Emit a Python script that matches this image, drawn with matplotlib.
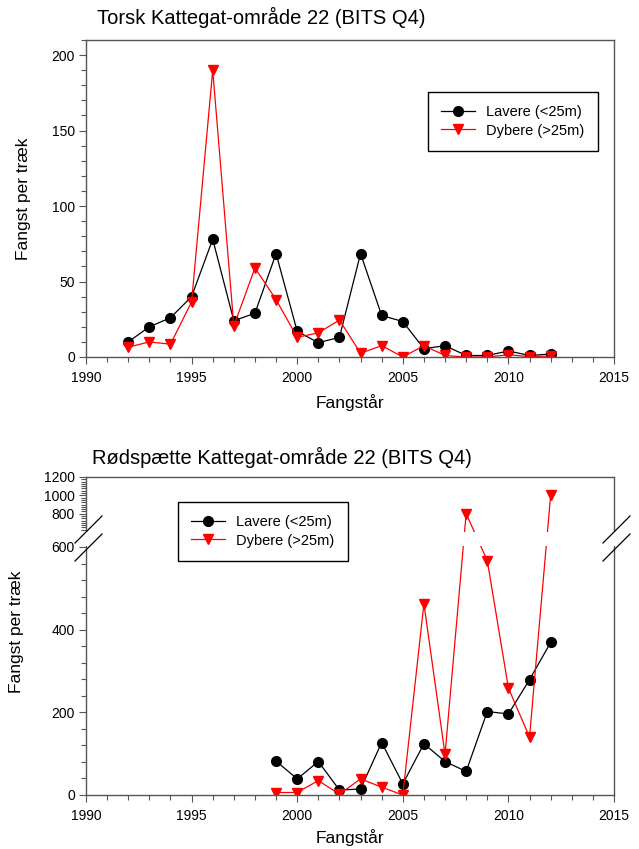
import numpy as np
import matplotlib
matplotlib.use("Agg")
import matplotlib.pyplot as plt
from matplotlib.lines import Line2D
from matplotlib.patches import Rectangle
from matplotlib.ticker import MultipleLocator, FixedLocator

plt.rcParams['font.family'] = ['Liberation Sans', 'DejaVu Sans']

# Torsk (top)
torsk_aar = list(range(1992, 2013))
torsk_lavere = [10, 20, 26, 40, 78, 24, 29, 68.5, 17, 9.5, 13, 68.5, 27.5, 23.5, 5.5, 7.5, 1, 1, 4, 1, 2]
torsk_dybere = [6.5, 10, 8.5, 36.5, 190, 20.5, 59, 38, 13, 16, 24.5, 2.5, 7.5, 0, 7.5, 1, 0, 0, 1.5, 0.2, 0.7]

# Rødspætte (bottom)
rod_aar = list(range(1999, 2013))
rod_lavere = [82, 39, 81, 12, 14.5, 127, 27, 124, 81, 57, 202, 196, 279, 369]
rod_dybere = [6, 6, 35, 2, 39, 19, 0, 463, 98, 800, 567, 259, 140, 1000]

labels = ["Lavere (<25m)", "Dybere (>25m)"]
W, H = 639, 849
spine_col = "#555555"

# broken y-axis for the bottom chart: 0-600 over 248 px, gap 15 px, 600-1200 over 55 px
LO_PX, GAP_PX, HI_PX, BRK = 248.0, 15.0, 55.0, 600.0


def fwd(v):
    v = np.asarray(v, dtype=float)
    return np.where(v <= BRK, v * LO_PX / BRK, LO_PX + GAP_PX + (v - BRK) * HI_PX / BRK)


def inv(u):
    u = np.asarray(u, dtype=float)
    return np.where(u <= LO_PX, u * BRK / LO_PX,
                    np.where(u < LO_PX + GAP_PX, BRK, BRK + (u - LO_PX - GAP_PX) * BRK / HI_PX))


def px(x0, y0, x1, y1):
    # pixel box (left, top, right, bottom) -> figure fractions
    return [x0 / W, 1 - y1 / H, (x1 - x0) / W, (y1 - y0) / H]


def style(ax):
    ax.set_xlim(1990, 2015)
    ax.xaxis.set_major_locator(MultipleLocator(5))
    ax.xaxis.set_minor_locator(MultipleLocator(1))
    ax.tick_params(which='both', direction='out', top=False, right=False,
                   labelsize=10, width=0.8, color=spine_col)
    ax.tick_params(which='major', length=5, pad=3)
    ax.tick_params(which='minor', length=3.5)
    ax.tick_params(axis='x', pad=5)
    for s in ax.spines.values():
        s.set_color(spine_col)
        s.set_linewidth(1.0)


def draw(ax, x, a, b):
    ax.plot(x, a, color='black', lw=0.9, marker='o', ms=7, label=labels[0])
    ax.plot(x, b, color='red', lw=0.9, marker='v', ms=7.5, label=labels[1])


def legend(ax, x, y):
    fig.legend(*ax.get_legend_handles_labels(), loc='upper left',
               bbox_to_anchor=(x / W, 1 - y / H), fontsize=10.5,
               frameon=True, fancybox=False, edgecolor='black', framealpha=1,
               handlelength=2.3, labelspacing=0.3, borderpad=0.9, borderaxespad=0)


fig = plt.figure(figsize=(W / 100, H / 100), dpi=100)

# ---- top chart ----
ax1 = fig.add_axes(px(86, 40, 614, 357))
draw(ax1, torsk_aar, torsk_lavere, torsk_dybere)
ax1.set_ylim(0, 210)
style(ax1)
ax1.yaxis.set_major_locator(MultipleLocator(50))
ax1.yaxis.set_minor_locator(MultipleLocator(10))
legend(ax1, 428, 92)
fig.text(97 / W, 1 - 17 / H, "Torsk Kattegat-område 22 (BITS Q4)", fontsize=14.5,
         ha='left', va='center')
fig.text(24 / W, 1 - 199 / H, "Fangst per træk", fontsize=12.5, rotation=90,
         ha='center', va='center')
fig.text(350 / W, 1 - 403 / H, "Fangstår", fontsize=12.5, ha='center', va='center')

# ---- bottom chart (broken axis) ----
ax2 = fig.add_axes(px(86, 477, 614, 795))
ax2.set_yscale('function', functions=(fwd, inv))
draw(ax2, rod_aar, rod_lavere, rod_dybere)
ax2.set_ylim(0, 1200)
style(ax2)
ax2.yaxis.set_major_locator(FixedLocator([0, 200, 400, 600, 800, 1000, 1200]))
ax2.yaxis.set_minor_locator(FixedLocator(np.concatenate([np.arange(0, 600, 40),
                                                         np.arange(625, 1200, 25)])))

# white gap across the axis
gap_lo = LO_PX / (LO_PX + GAP_PX + HI_PX)
gap_h = GAP_PX / (LO_PX + GAP_PX + HI_PX)
ax2.add_patch(Rectangle((-0.006, gap_lo + 0.004), 1.012, gap_h - 0.004,
                        transform=ax2.transAxes, facecolor='white', edgecolor='none',
                        clip_on=False, zorder=10))

# break marks
for xs in (75, 603):
    for yoff in (0, 18):
        fig.add_artist(Line2D([xs / W, (xs + 27) / W],
                              [1 - (543 + yoff) / H, 1 - (516 + yoff) / H],
                              color='black', lw=0.9))

legend(ax2, 178, 502)
fig.text(92 / W, 1 - 457 / H, "Rødspætte Kattegat-område 22 (BITS Q4)", fontsize=14.5,
         ha='left', va='center')
fig.text(17 / W, 1 - 632 / H, "Fangst per træk", fontsize=12.5, rotation=90,
         ha='center', va='center')
fig.text(350 / W, 1 - 838 / H, "Fangstår", fontsize=12.5, ha='center', va='center')

fig.savefig("out.png", dpi=100)
